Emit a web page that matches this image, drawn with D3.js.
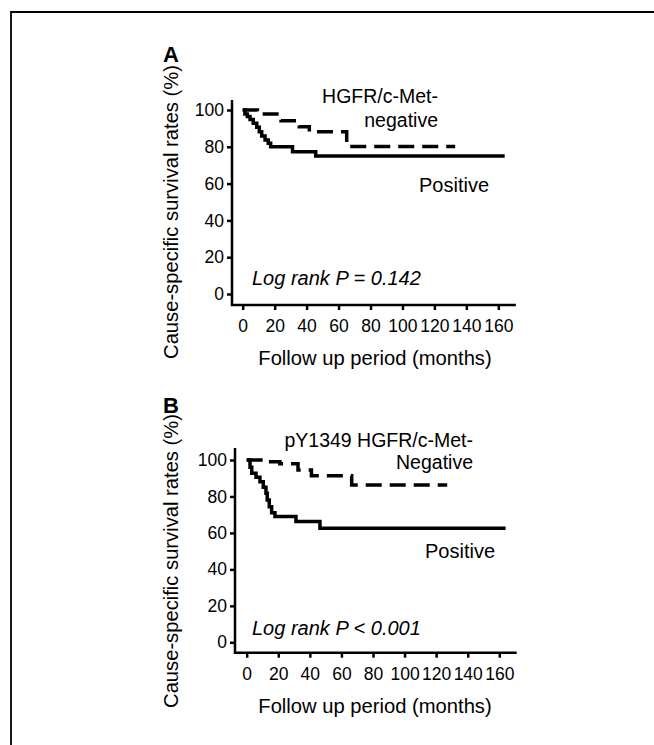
<!DOCTYPE html>
<html>
<head>
<meta charset="utf-8">
<script src="https://cdn.jsdelivr.net/npm/d3@7/dist/d3.min.js"></script>
<style>
  body { margin: 0; background: #fff; }
  svg { display: block; font-family: "Liberation Sans", Arial, sans-serif; }
</style>
</head>
<body>
<svg id="chart"></svg>
<script>
const width = 654;
const height = 745;
const svg = d3.select("#chart").attr("width", width).attr("height", height);

// Kaplan-Meier steps: [month, survival %]
const aPositive = [[0, 100], [1.4, 97.8], [2.9, 96.4], [4.6, 94.9], [6.6, 92.8], [8.8, 90.6], [10.4, 88.2],
  [11.9, 85.9], [14, 83.7], [16, 81.9], [17.5, 80], [31.2, 77.3], [45.7, 75], [164, 75]];
const aNegative = [[0, 100], [9.2, 97.8], [24, 94.2], [35.4, 90.9], [41.7, 88.2], [65.1, 80.2], [133, 80.2]];
const bPositive = [[0, 100], [2.1, 96], [3.2, 92.7], [5.9, 90.5], [8.4, 88.1], [10.5, 85], [12.2, 81.7],
  [13, 78.1], [14.3, 74.4], [15.8, 71.1], [17.9, 69], [31.2, 66.2], [46.4, 62.5], [164, 62.5]];
const bNegative = [[0, 100], [9, 99], [21, 98], [32.5, 94.5], [41, 91.3], [66.5, 86.3], [127, 86.3]];

const xTicks = [0, 20, 40, 60, 80, 100, 120, 140, 160];
const yTicks = [0, 20, 40, 60, 80, 100];

const panels = [
  { letter: "A", pos: aPositive, neg: aNegative,
    negLabel: ["HGFR/c-Met-", "negative"], posLabel: "Positive", pText: "Log rank P = 0.142",
    axisX: 232, axisY: 305, x0: 242.7, x1: 498.3, y0: 294, y100: 110, yTop: 100,
    letterY: 62, negRight: 438, negY: [103, 127], posX: 419, posY: 192, pY: 285, yLabelY: 212 },
  { letter: "B", pos: bPositive, neg: bNegative,
    negLabel: ["pY1349 HGFR/c-Met-", "Negative"], posLabel: "Positive", pText: "Log rank P < 0.001",
    axisX: 235, axisY: 652.7, x0: 246.7, x1: 499.3, y0: 642.3, y100: 460, yTop: 448,
    letterY: 413, negRight: 473, negY: [447, 469], posX: 425, posY: 558, pY: 635, yLabelY: 561 }
];

// frame (top and left edges only, as cropped)
svg.append("path").attr("d", `M11,${height} L11,12 L${width},12`)
  .attr("fill", "none").attr("stroke", "#000").attr("stroke-width", 1.8);

panels.forEach(p => drawPanel(p));

function drawPanel(p) {
  const g = svg.append("g");
  const x = d3.scaleLinear().domain([0, 160]).range([p.x0, p.x1]);
  const y = d3.scaleLinear().domain([0, 100]).range([p.y0, p.y100]);

  const xAxis = g.append("g").attr("transform", `translate(0,${p.axisY})`)
    .call(d3.axisBottom(x).tickValues(xTicks).tickSize(5).tickSizeOuter(0).tickPadding(9.5));
  xAxis.select(".domain").remove();
  xAxis.selectAll(".tick line").attr("stroke-width", 2.5);
  xAxis.selectAll(".tick text").attr("font-size", 17.5).attr("font-family", "Liberation Sans, Arial, sans-serif").attr("fill", "#000");

  const yAxis = g.append("g").attr("transform", `translate(${p.axisX},0)`)
    .call(d3.axisLeft(y).tickValues(yTicks).tickSize(5).tickSizeOuter(0).tickPadding(3));
  yAxis.select(".domain").remove();
  yAxis.selectAll(".tick line").attr("stroke-width", 2.5);
  yAxis.selectAll(".tick text").attr("font-size", 17.5).attr("font-family", "Liberation Sans, Arial, sans-serif").attr("fill", "#000");

  g.append("path")
    .attr("d", `M${p.axisX},${p.yTop} L${p.axisX},${p.axisY} L${x(171)},${p.axisY}`)
    .attr("fill", "none").attr("stroke", "#000").attr("stroke-width", 2.5);

  const line = d3.line().x(d => x(d[0])).y(d => y(d[1])).curve(d3.curveStepAfter);
  g.append("path").datum(p.pos).attr("d", line)
    .attr("fill", "none").attr("stroke", "#000").attr("stroke-width", 3.5);
  g.append("path").datum(p.neg).attr("d", line)
    .attr("fill", "none").attr("stroke", "#000").attr("stroke-width", 3.5)
    .attr("stroke-dasharray", "16,8");

  g.append("text").attr("x", 163).attr("y", p.letterY).text(p.letter)
    .attr("font-size", 22).attr("font-weight", "bold");

  g.selectAll(".neglabel").data(p.negLabel).enter().append("text")
    .attr("class", "neglabel")
    .attr("x", p.negRight).attr("y", (d, i) => p.negY[i])
    .attr("text-anchor", "end").attr("font-size", 19.5).text(d => d);

  g.append("text").attr("x", p.posX).attr("y", p.posY).attr("font-size", 20).text(p.posLabel);
  g.append("text").attr("x", 252).attr("y", p.pY).attr("font-size", 20)
    .attr("font-style", "italic").text(p.pText);

  g.append("text").attr("x", 375).attr("y", p.axisY + 60).attr("text-anchor", "middle")
    .attr("font-size", 20.2).text("Follow up period (months)");

  g.append("text").attr("transform", `translate(178,${p.yLabelY}) rotate(-90)`)
    .attr("text-anchor", "middle").attr("font-size", 20.2)
    .text("Cause-specific survival rates (%)");
}
</script>
</body>
</html>
